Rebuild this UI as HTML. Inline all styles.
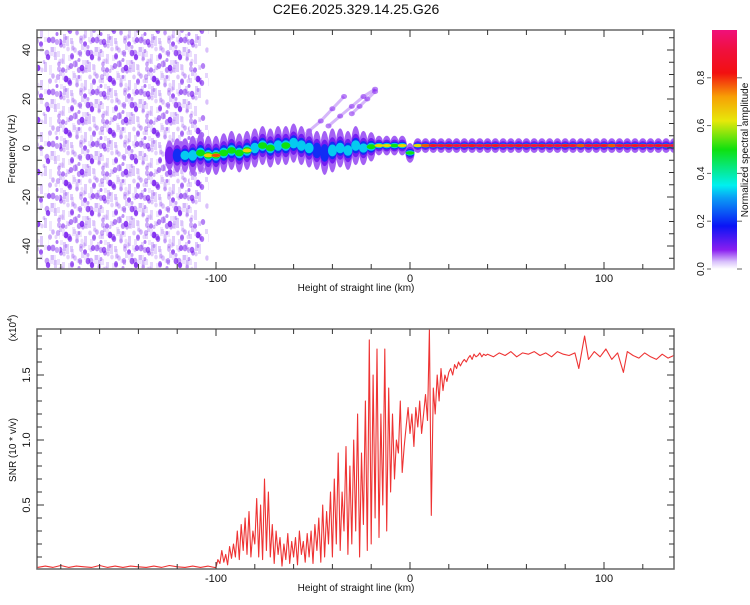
<!DOCTYPE html>
<html><head><meta charset="utf-8"><style>
body{margin:0;background:#fff;}
svg{font-family:"Liberation Sans",sans-serif;}
</style></head><body>
<svg id="c" width="750" height="600" viewBox="0 0 750 600">
<defs>
<clipPath id="clipTop"><rect x="37" y="30" width="637" height="239"/></clipPath>
<clipPath id="clipBot"><rect x="37" y="329" width="637" height="240"/></clipPath>
<pattern id="noisePat" width="44" height="52" patternUnits="userSpaceOnUse">
<g fill="#7a1fef">
<ellipse cx="4" cy="5" rx="2.2" ry="3" opacity="0.8"/><ellipse cx="15" cy="12" rx="1.8" ry="2.5" opacity="0.4"/>
<ellipse cx="28" cy="4" rx="2" ry="3" opacity="0.6"/><ellipse cx="38" cy="16" rx="2.4" ry="3.2" opacity="0.85"/>
<ellipse cx="9" cy="24" rx="1.8" ry="2.8" opacity="0.35"/><ellipse cx="22" cy="27" rx="2.4" ry="3.4" opacity="0.9"/>
<ellipse cx="33" cy="33" rx="1.7" ry="2.5" opacity="0.4"/><ellipse cx="5" cy="40" rx="2.2" ry="3" opacity="0.7"/>
<ellipse cx="17" cy="45" rx="1.9" ry="2.6" opacity="0.5"/><ellipse cx="41" cy="44" rx="2" ry="2.8" opacity="0.75"/>
<ellipse cx="29" cy="48" rx="1.6" ry="2.3" opacity="0.3"/><ellipse cx="13" cy="34" rx="1.5" ry="2" opacity="0.6"/>
<ellipse cx="25" cy="16" rx="1.5" ry="2.2" opacity="0.3"/><ellipse cx="35" cy="25" rx="1.4" ry="2" opacity="0.55"/>
</g>
<g fill="#b78cf5" opacity="0.45">
<rect x="0" y="10" width="3" height="10"/><rect x="10" y="0" width="3" height="8"/><rect x="19" y="34" width="3" height="9"/>
<rect x="31" y="8" width="3" height="7"/><rect x="40" y="28" width="3" height="10"/><rect x="7" y="47" width="3" height="5"/>
<rect x="26" y="38" width="3" height="6"/><rect x="15" y="18" width="3" height="6"/><rect x="35" y="0" width="3" height="5"/>
</g>
</pattern>
<linearGradient id="cbGrad" x1="0" y1="1" x2="0" y2="0">
<stop offset="0" stop-color="#ffffff"/><stop offset="0.03" stop-color="#d9c2fb"/><stop offset="0.08" stop-color="#8a1ef0"/>
<stop offset="0.18" stop-color="#0a14f5"/><stop offset="0.3" stop-color="#0aa0f5"/><stop offset="0.35" stop-color="#00f0f0"/>
<stop offset="0.5" stop-color="#0fe00f"/><stop offset="0.62" stop-color="#e7e80a"/><stop offset="0.72" stop-color="#f7a005"/>
<stop offset="0.82" stop-color="#f21010"/><stop offset="0.92" stop-color="#f01040"/><stop offset="1" stop-color="#f0107a"/>
</linearGradient>
</defs>
</svg>
<script>
// ---- spectrogram data ----
const traceH=[-124,-120,-116,-112,-108,-104,-100,-96,-92,-88,-84,-80,-76,-72,-68,-64,-60,-56,-52,-48,-44,-40,-36,-32,-28,-24,-20,-16,-12,-8,-4,0,4,8,12,16,20,24,28,32,36,40,44,48,52,56,60,64,68,72,76,80,84,88,92,96,100,104,108,112,116,120,124,128,132,136];
const traceF=[-3,-3,-3,-3,-2,-3,-3,-2,-1,-2,-1,0,1,0,1,1,2,1,0,-1,-2,-1,0,-1,1,0,0.5,1,1,1,1,-2,1,1,1,1,1,1,1,1,1,1,1,1,1,1,1,1,1,1,1,1,1,1,1,1,1,1,1,1,1,1,1,1,1,1];
const traceA=[0.2,0.3,0.35,0.45,0.5,0.75,0.8,0.55,0.6,0.5,0.65,0.45,0.55,0.5,0.4,0.5,0.45,0.35,0.4,0.3,0.25,0.35,0.4,0.45,0.45,0.4,0.6,0.65,0.7,0.6,0.7,0.5,0.75,0.8,0.9,0.92,0.9,0.93,0.92,0.9,0.93,0.92,0.9,0.93,0.92,0.9,0.92,0.93,0.9,0.92,0.93,0.9,0.92,0.8,0.92,0.93,0.9,0.8,0.92,0.93,0.9,0.92,0.93,0.9,0.92,0.92];
const traceSpread=[6,7,7,8,8,8,8,8,8,8,8,8,8,8,8,8,8,8,8,8,9,9,8,8,8,7,6,4,4,4,4,4,3,3,3,3,3,3,3,3,3,3,3,3,3,3,3,3,3,3,3,3,3,3,3,3,3,3,3,3,3,3,3,3,3,3];
const chirp1H=[-58,-52,-46,-40,-34], chirp1F=[3,7,11,16,21];
const chirp2H=[-42,-36,-30,-24,-18], chirp2F=[9,13,17,21,24];
const chirp3H=[-30,-26,-22,-18], chirp3F=[14,17,20,23];
const noiseRange=[-192,-108];
// ---- SNR data (x10^4) ----
const snrH1=[-192,-188,-184,-180,-176,-172,-168,-164,-160,-156,-152,-148,-144,-140,-136,-132,-128,-124,-120,-116,-112,-108,-104,-101];
const snrV1=[0.02,0.03,0.02,0.035,0.02,0.03,0.025,0.02,0.035,0.02,0.03,0.02,0.03,0.025,0.02,0.03,0.02,0.035,0.025,0.02,0.03,0.02,0.03,0.02];
const snrH2=[];for(let h=-100;h<=40;h++)snrH2.push(h);
const snrV2=[0.02,0.08,0.05,0.15,0.06,0.12,0.04,0.18,0.09,0.2,
0.1,0.3,0.08,0.35,0.15,0.4,0.12,0.45,0.1,0.3,
0.2,0.55,0.1,0.5,0.08,0.7,0.15,0.6,0.1,0.35,
0.05,0.3,0.12,0.25,0.03,0.2,0.08,0.28,0.05,0.22,
0.1,0.25,0.04,0.3,0.12,0.22,0.06,0.28,0.1,0.3,
0.05,0.35,0.15,0.4,0.06,0.5,0.1,0.45,0.2,0.6,
0.1,0.7,0.2,0.9,0.15,0.6,0.3,0.95,0.12,0.8,
0.2,1.0,0.3,1.2,0.1,0.9,0.35,1.3,0.15,1.77,
0.2,1.5,0.4,1.7,0.25,1.2,0.5,1.7,0.3,1.4,
0.6,1.2,0.7,1.0,0.9,1.3,0.75,0.95,1.1,1.25,
1.05,1.2,0.95,1.25,1.1,1.3,1.05,1.2,1.35,1.15,
1.85,0.42,1.4,1.2,1.5,1.3,1.55,1.38,1.5,1.45,
1.52,1.55,1.5,1.58,1.55,1.6,1.57,1.6,1.62,1.6,
1.63,1.65,1.62,1.66,1.64,1.65,1.67,1.64,1.66,1.65,1.66];
const snrH3=[43,46,49,52,55,58,61,64,67,70,73,76,79,82,85,87,89,90,92,95,98,101,104,107,110,112,115,118,121,124,127,130,133,136];
const snrV3=[1.64,1.67,1.65,1.68,1.64,1.67,1.66,1.68,1.65,1.67,1.64,1.68,1.66,1.65,1.67,1.55,1.72,1.8,1.62,1.68,1.64,1.7,1.62,1.67,1.52,1.68,1.65,1.63,1.67,1.64,1.62,1.66,1.63,1.65];
const xTicks=[-180,-160,-140,-120,-100,-80,-60,-40,-20,0,20,40,60,80,100,120];
const xLabels=[-100,0,100];
const fTicks=[-45,-40,-35,-30,-25,-20,-15,-10,-5,0,5,10,15,20,25,30,35,40,45];
const fLabels=[-40,-20,0,20,40];
const sTicks=[0.1,0.2,0.3,0.4,0.5,0.6,0.7,0.8,0.9,1.0,1.1,1.2,1.3,1.4,1.5,1.6,1.7,1.8];
const sLabels=["0.5","1.0","1.5"];
const cbLabels=["0.0","0.2","0.4","0.6","0.8"];

const NS="http://www.w3.org/2000/svg";
const svg=document.getElementById('c');
function el(t,a,p){const e=document.createElementNS(NS,t);for(const k in a)e.setAttribute(k,a[k]);(p||svg).appendChild(e);return e;}
const X=h=>410+h*1.94;
const YF=f=>148-f*2.45;
const YS=v=>570-v*130;
function cmap(a){
 const s=[[0,[255,255,255]],[0.05,[210,185,250]],[0.12,[130,30,240]],[0.2,[20,20,245]],[0.32,[10,170,245]],[0.38,[0,235,235]],[0.5,[15,225,15]],[0.62,[230,232,10]],[0.74,[247,150,5]],[0.85,[242,16,16]],[1,[240,16,122]]];
 for(let i=1;i<s.length;i++){if(a<=s[i][0]){const t=(a-s[i-1][0])/(s[i][0]-s[i-1][0]);const c=s[i-1][1].map((v,j)=>Math.round(v+(s[i][1][j]-v)*t));return 'rgb('+c.join(',')+')';}}
 return 'rgb(240,16,122)';
}
// ---- top panel ----
const topG=el('g',{'clip-path':'url(#clipTop)'});


const nw=X(noiseRange[1])-X(noiseRange[0]);
const noise=el('rect',{x:X(noiseRange[0]),y:30,width:nw,height:239,fill:'url(#noisePat)'},topG);


const noise2=el('rect',{x:X(noiseRange[0]),y:4,width:nw-14,height:265,fill:'url(#noisePat)',transform:'translate(22,26)',opacity:0.8},topG);


const noise3=el('rect',{x:X(noiseRange[0])-20,y:10,width:nw-10,height:265,fill:'url(#noisePat)',transform:'translate(31,13) scale(1,1)',opacity:0.6},topG);


const noise4=el('rect',{x:X(noiseRange[0])-20,y:0,width:nw,height:265,fill:'url(#noisePat)',transform:'translate(9,37)',opacity:0.5},topG);


function chirp(H,F,name){
 for(let i=0;i<H.length;i++){
  const c=el('ellipse',{cx:X(H[i]),cy:YF(F[i]),rx:3,ry:2.5,fill:cmap(0.12),opacity:0.55},topG);
  
  
  if(i<H.length-1){const l=el('line',{x1:X(H[i]),y1:YF(F[i]),x2:X(H[i+1]),y2:YF(F[i+1]),stroke:cmap(0.09),'stroke-width':3,opacity:0.45},topG);
  
  }
 }
}
chirp(chirp1H,chirp1F,'chirp-1');chirp(chirp2H,chirp2F,'chirp-2');chirp(chirp3H,chirp3F,'chirp-3');
const layers=[[1.0,0.06],[0.6,0.13],[0.4,0.22],[0.27,0.35],[0.17,0.5],[0.1,0.65],[0.05,0.8]];
for(const [fr,lvl] of layers){
 for(let i=0;i<traceH.length;i++){
  const a=traceA[i]; if(a<lvl&&lvl>0.06) continue;
  const v=Math.min(a,lvl+(fr<0.1?0.2:0));
  const ry=Math.max(1.6,traceSpread[i]*2.45*fr);
  const e=el('ellipse',{cx:X(traceH[i]),cy:YF(traceF[i]),rx:4.5,ry:ry,fill:cmap(lvl===0.06?0.09:v)},topG);
  
  
 }
}
// ---- bottom panel ----
const bot=el('g',{'clip-path':'url(#clipBot)'});


const H=[...snrH1,...snrH2,...snrH3], V=[...snrV1,...snrV2,...snrV3];
const path=el('path',{d:H.map((h,i)=>(i?'L':'M')+X(h).toFixed(1)+','+YS(V[i]).toFixed(1)).join(''),fill:'none',stroke:'#ee3333','stroke-width':1.1,'stroke-linejoin':'round'},bot);


// ---- axes ----
function frame(y0,y1,name){
 const r=el('rect',{x:37,y:y0,width:637,height:y1-y0,fill:'none',stroke:'#666','stroke-width':1.5});
 
 
 for(const t of xTicks){
  const big=xLabels.includes(t);
  el('line',{x1:X(t),x2:X(t),y1:y0,y2:y0+(big?7:5),stroke:'#333'});
  el('line',{x1:X(t),x2:X(t),y1:y1,y2:y1-(big?7:5),stroke:'#333'});
 }
 for(const t of xLabels){
  const tx=el('text',{x:X(t),y:y1+13,'font-size':11,'text-anchor':'middle',fill:'#111'});tx.textContent=t;
  
  
 }
 const xt=el('text',{x:356,y:y1+22,'font-size':10,'text-anchor':'middle',fill:'#111'});xt.textContent='Height of straight line (km)';
 
 
}
frame(30,269,'top-plot-frame');
frame(329,569,'bottom-plot-frame');
for(const t of fTicks){const big=fLabels.includes(t);
 el('line',{x1:37,x2:37+(big?7:5),y1:YF(t),y2:YF(t),stroke:'#333'});
 el('line',{x1:674,x2:674-(big?7:5),y1:YF(t),y2:YF(t),stroke:'#333'});}
for(const t of fLabels){const tx=el('text',{transform:'translate(30,'+YF(t)+') rotate(-90)','font-size':11,'text-anchor':'middle',fill:'#111'});tx.textContent=t;
 
 }
const yt=el('text',{transform:'translate(15,149) rotate(-90)','font-size':10,'text-anchor':'middle',fill:'#111'});yt.textContent='Frequency (Hz)';


for(const t of sTicks){const big=Math.abs(t*2-Math.round(t*2))<1e-6;
 el('line',{x1:37,x2:37+(big?7:5),y1:YS(t),y2:YS(t),stroke:'#333'});
 el('line',{x1:674,x2:674-(big?7:5),y1:YS(t),y2:YS(t),stroke:'#333'});}
for(const t of sLabels){const tx=el('text',{transform:'translate(30,'+YS(+t)+') rotate(-90)','font-size':11,'text-anchor':'middle',fill:'#111'});tx.textContent=t;
 
 }
const st=el('text',{transform:'translate(16,450) rotate(-90)','font-size':10,'text-anchor':'middle',fill:'#111'});st.textContent='SNR (10 * v/v)';


const sc=el('text',{transform:'translate(16,328) rotate(-90)','font-size':10,'text-anchor':'middle',fill:'#111'});


const s1=el('tspan',{},sc);s1.textContent='(x10';
const s2=el('tspan',{dy:-4,'font-size':7},sc);s2.textContent='4';
const s3=el('tspan',{dy:4},sc);s3.textContent=')';
const ti=el('text',{x:356,y:14,'font-size':14,'text-anchor':'middle',fill:'#111'});ti.textContent='C2E6.2025.329.14.25.G26';


// ---- colorbar ----
const cb=el('rect',{x:712,y:30,width:25,height:239,fill:'url(#cbGrad)'});


cbLabels.forEach((t,i)=>{const y=269-(+t)*239;
 el('line',{x1:737,x2:742,y1:y,y2:y,stroke:'#666'});
 el('line',{x1:707,x2:711,y1:y,y2:y,stroke:'#666'});
 const tx=el('text',{transform:'translate(704,'+y+') rotate(-90)','font-size':10,'text-anchor':'middle',fill:'#111'});tx.textContent=t;
 
 });
const ct=el('text',{transform:'translate(748,150) rotate(-90)','font-size':10,'text-anchor':'middle',fill:'#111'});ct.textContent='Normalized spectral amplitude';


</script>
</body></html>
